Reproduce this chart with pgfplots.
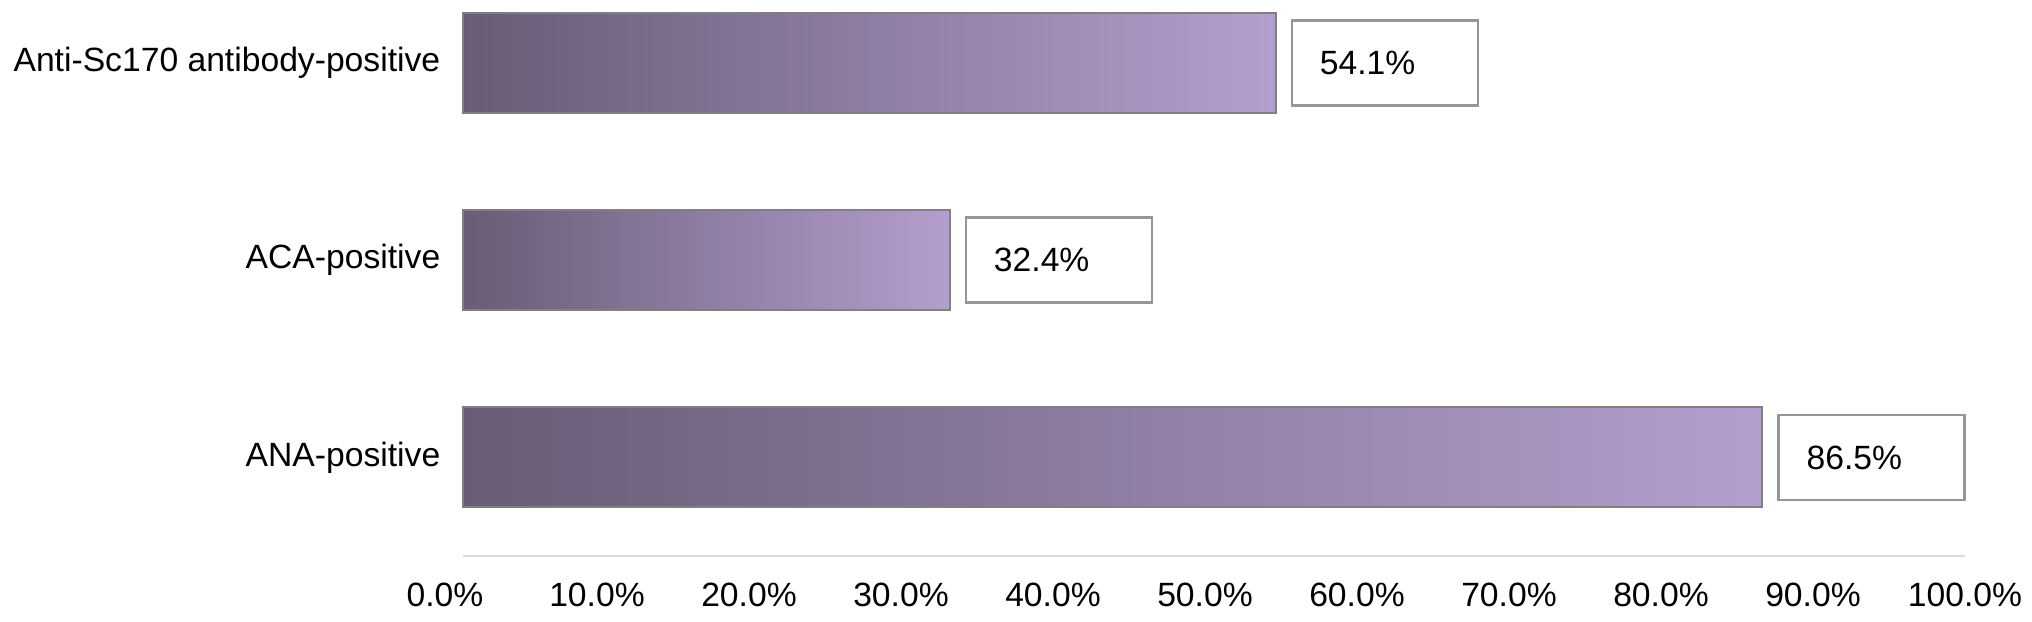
\documentclass[border=0pt]{standalone}
\usepackage{fontspec}
\setmainfont{Liberation Sans}
\usepackage{pgfplots}
\pgfplotsset{compat=1.18}
\definecolor{bardark}{RGB}{105,92,118}
\definecolor{barlight}{RGB}{180,158,206}
\definecolor{baredge}{RGB}{128,128,128}
\definecolor{boxedge}{RGB}{150,150,150}
\definecolor{axline}{RGB}{218,218,218}
\tikzset{mybar/.style={draw=baredge, line width=0.6bp, left color=bardark, right color=barlight}}
\begin{document}
\begin{tikzpicture}
\begin{axis}[
  name=ax,
  scale only axis,
  width=450.6bp, height=166.8bp,
  xmin=0, xmax=100,
  ymin=-0.5, ymax=2.32,
  xbar, bar width=30bp, bar shift=0pt,
  axis x line*=bottom, axis y line*=left,
  x axis line style={draw=axline, line width=0.8bp},
  y axis line style={draw=none},
  major tick length=0pt,
  tick style={draw=none},
  font=\fontsize{10.1bp}{12bp}\selectfont,
  /pgf/number format/assume math mode=true,
  xtick={0,10,...,100},
  xticklabel={\pgfmathsetmacro\sh{-10.8*(1-\tick/100)}\hspace*{\sh bp}\pgfmathprintnumber[fixed,fixed zerofill,precision=1]{\tick}\%},
  xticklabel style={yshift=-4.5bp},
  ytick={0,1,2},
  yticklabels={ANA-positive, ACA-positive, Anti-Sc170 antibody-positive},
  yticklabel style={xshift=-3.3bp},
  clip=false,
  point meta=x,
  nodes near coords={\pgfmathprintnumber[fixed,fixed zerofill,precision=1]{\pgfplotspointmeta}\%},
  every node near coord/.style={anchor=west, xshift=4.5bp, draw=boxedge, line width=0.8bp, fill=white, text=black,
     text width=39bp, align=left, inner xsep=8.4bp, minimum height=25.5bp},
]
\addplot[mybar] coordinates {(86.5,0)};
\addplot[mybar] coordinates {(32.4,1)};
\addplot[mybar] coordinates {(54.1,2)};
\end{axis}
\pgfresetboundingbox
\path ([xshift=-138.9bp,yshift=-19.5bp]ax.south west) rectangle ++(609.6bp,186.3bp);
\end{tikzpicture}
\end{document}
